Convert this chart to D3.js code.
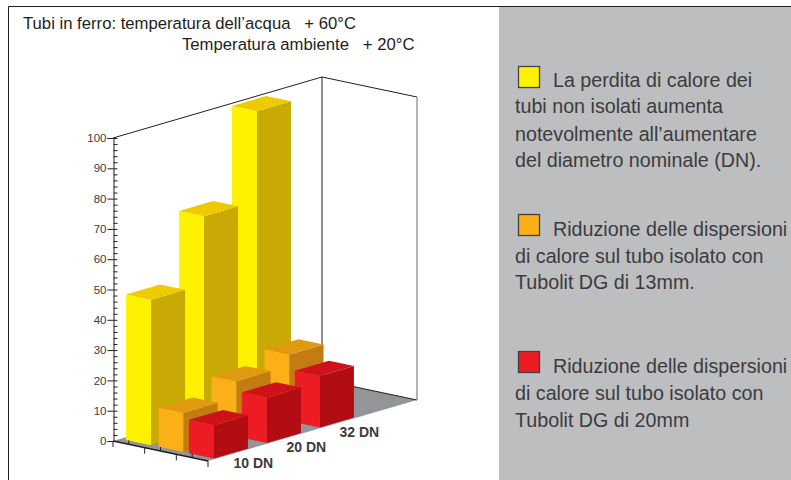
<!DOCTYPE html>
<html>
<head>
<meta charset="utf-8">
<script src="https://cdn.jsdelivr.net/npm/d3@7"></script>
<style>
  html, body { margin: 0; padding: 0; background: #fff; }
  text { font-family: "Liberation Sans", Arial, sans-serif; }
</style>
</head>
<body>
<svg id="chart" width="791" height="480" style="display:block"></svg>
<script>
const categories = ["10 DN", "20 DN", "32 DN"];
const seriesNames = ["Non isolato", "Tubolit DG 13mm", "Tubolit DG 20mm"];
const nonIsolato = [48, 70.5, 100];
const tubolit13 = [13, 18.3, 22];
const tubolit20 = [11, 15, 17];
const seriesValues = [nonIsolato, tubolit13, tubolit20];
const yTicks = d3.range(0, 101, 10);
const yMinorTicks = d3.range(0, 101, 2);

const titleLines = ["Tubi in ferro: temperatura dell\u2019acqua   + 60\u00b0C", "Temperatura ambiente   + 20\u00b0C"];
const legendTexts = [
  ["La perdita di calore dei", "tubi non isolati aumenta", "notevolmente all\u2019aumentare", "del diametro nominale (DN)."],
  ["Riduzione delle dispersioni", "di calore sul tubo isolato con", "Tubolit DG di 13mm."],
  ["Riduzione delle dispersioni", "di calore sul tubo isolato con", "Tubolit DG di 20mm"]
];

// front, top and side colours for each series
const faceColors = [
  { front: "#fff200", top: "#eecb00", side: "#c9a904" },
  { front: "#fbb017", top: "#e09a10", side: "#c27c12" },
  { front: "#ed1c24", top: "#cf1219", side: "#b20d13" }
];

const svg = d3.select("#chart");
const textColor = "#3c3b3d";

// frame and grey side panel
svg.append("rect")
  .attr("x", 499).attr("y", 7)
  .attr("width", 292).attr("height", 473)
  .attr("fill", "#bcbec0");
svg.append("path")
  .attr("d", "M791,6.5H8.5V480")
  .attr("fill", "none")
  .attr("stroke", "#231f20");

// oblique box: value goes up, series goes right-down, category goes right-up
const y = d3.scaleLinear().domain([0, 100]).range([441, 138]);
const origin = { x: 113, y: 441 };
const uVec = { x: 95, y: 20 };
const vVec = { x: 209, y: -61 };

const uPos = d3.scaleOrdinal().domain(seriesNames).range([0.058, 0.40, 0.72]);
const vPos = d3.scalePoint().domain(categories).range([0.036, 0.543]);
const uWidth = 0.263;
const vWidth = 0.163;

function project(u, v, value) {
  return [
    origin.x + u * uVec.x + v * vVec.x,
    y(value) + u * uVec.y + v * vVec.y
  ];
}

const poly = d3.line();
function face(points) {
  return poly(points) + "Z";
}

// floor
svg.append("path")
  .attr("d", face([project(0, 0, 0), project(1, 0, 0), project(1, 1, 0), project(0, 1, 0)]))
  .attr("fill", "#939598");

// walls
const wallLines = [
  [project(0, 0, 100), project(0, 1, 100), project(1, 1, 100)],
  [project(0, 1, 100), project(0, 1, 0), project(1, 1, 0)]
];
svg.selectAll("path.wall").data(wallLines).join("path")
  .attr("class", "wall")
  .attr("d", d => poly(d))
  .attr("fill", "none")
  .attr("stroke", "#231f20")
  .attr("stroke-width", 1);
svg.append("path")
  .attr("d", poly([project(1, 1, 100), project(1, 1, 0)]))
  .attr("stroke", "#808285")
  .attr("stroke-width", 1.2);

// bars, back to front
seriesNames.forEach((name, s) => {
  const colors = faceColors[s];
  categories.slice().reverse().forEach(cat => {
    const value = seriesValues[s][categories.indexOf(cat)];
    const u0 = uPos(name), u1 = u0 + uWidth;
    const v0 = vPos(cat), v1 = v0 + vWidth;
    const g = svg.append("g");
    g.append("path").attr("fill", colors.front)
      .attr("d", face([project(u0, v0, 0), project(u1, v0, 0), project(u1, v0, value), project(u0, v0, value)]));
    g.append("path").attr("fill", colors.side)
      .attr("d", face([project(u1, v0, 0), project(u1, v1, 0), project(u1, v1, value), project(u1, v0, value)]));
    g.append("path").attr("fill", colors.top)
      .attr("d", face([project(u0, v0, value), project(u1, v0, value), project(u1, v1, value), project(u0, v1, value)]));
  });
});

// front edge of the floor with its ticks
svg.append("path")
  .attr("d", poly([project(0, 0, 0), project(1, 0, 0)]))
  .attr("stroke", "#231f20")
  .attr("stroke-width", 1.3);
const uTicks = [0, 1 / 3, 2 / 3, 1];
svg.selectAll("line.utick").data(uTicks).join("line")
  .attr("class", "utick")
  .attr("x1", d => project(d, 0, 0)[0])
  .attr("y1", d => project(d, 0, 0)[1])
  .attr("x2", d => project(d, 0, 0)[0])
  .attr("y2", d => project(d, 0, 0)[1] + 6)
  .attr("stroke", "#231f20");
const uMinorTicks = [1 / 6, 1 / 2, 5 / 6];
svg.selectAll("line.uminor").data(uMinorTicks).join("line")
  .attr("class", "uminor")
  .attr("x1", d => project(d, 0, 0)[0])
  .attr("y1", d => project(d, 0, 0)[1])
  .attr("x2", d => project(d, 0, 0)[0])
  .attr("y2", d => project(d, 0, 0)[1] - 4)
  .attr("stroke", "#231f20");

// value axis
const axisMajor = d3.axisLeft(y).tickValues(yTicks).tickSize(6).tickPadding(1);
const axisG = svg.append("g").attr("transform", `translate(${origin.x + 0.5},0)`).call(axisMajor);
axisG.select(".domain").attr("stroke", "#231f20");
axisG.selectAll("line").attr("stroke", "#231f20");
axisG.selectAll("text")
  .style("font-family", '"Liberation Sans", Arial, sans-serif')
  .style("font-size", "11.5px")
  .attr("fill", textColor);

const axisMinor = d3.axisRight(y).tickValues(yMinorTicks).tickSize(4).tickFormat("");
const minorG = svg.append("g").attr("transform", `translate(${origin.x + 0.5},0)`).call(axisMinor);
minorG.select(".domain").remove();
minorG.selectAll("line").attr("stroke", "#231f20");

// category labels
svg.selectAll("text.cat").data(categories).join("text")
  .attr("class", "cat")
  .attr("x", d => project(1, vPos(d), 0)[0] + 18)
  .attr("y", d => project(1, vPos(d), 0)[1] + 9)
  .attr("font-size", 14)
  .attr("font-weight", "bold")
  .attr("fill", textColor)
  .text(d => d);

// heading
svg.append("text").attr("x", 23).attr("y", 29).attr("font-size", 16.7).attr("fill", "#231f20")
  .style("white-space", "pre").text(titleLines[0]);
svg.append("text").attr("x", 182).attr("y", 50).attr("font-size", 16.7).attr("fill", "#231f20")
  .style("white-space", "pre").text(titleLines[1]);

// legend
const legendBlocks = [
  { swatchY: 66, lineY: [87, 113, 141, 167] },
  { swatchY: 214, lineY: [236, 263, 289] },
  { swatchY: 351, lineY: [373, 400, 427] }
];
legendBlocks.forEach((b, i) => {
  svg.append("rect")
    .attr("x", 518.5).attr("y", b.swatchY + 0.5)
    .attr("width", 21).attr("height", 21)
    .attr("fill", faceColors[i].front)
    .attr("stroke", "#414042")
    .attr("stroke-width", 1.3);
  svg.selectAll(null).data(legendTexts[i]).join("text")
    .attr("x", (d, k) => k === 0 ? 553 : 515)
    .attr("y", (d, k) => b.lineY[k])
    .attr("font-size", 19.7)
    .attr("fill", textColor)
    .text(d => d);
});
</script>
</body>
</html>
